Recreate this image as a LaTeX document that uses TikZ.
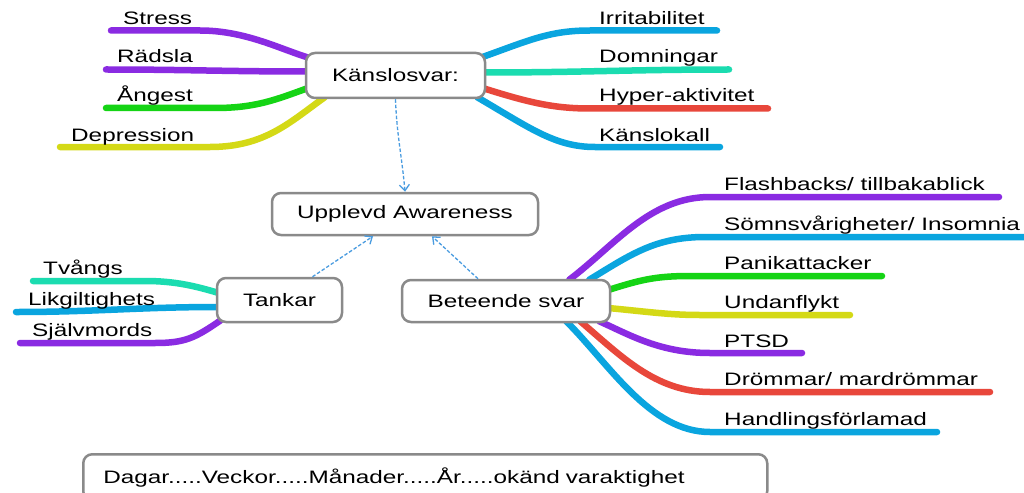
\documentclass[tikz,border=0pt]{standalone}
\usepackage{fontspec}
\setmainfont{Liberation Sans}[FakeStretch=1.35]
\usetikzlibrary{arrows.meta,calc,backgrounds}

\definecolor{mmpurple}{HTML}{8A2BE2}
\definecolor{mmblue}{HTML}{0AA5DF}
\definecolor{mmteal}{HTML}{1BDCB0}
\definecolor{mmgreen}{HTML}{15D415}
\definecolor{mmyellow}{HTML}{D4D916}
\definecolor{mmred}{HTML}{E8473B}
\definecolor{boxgray}{HTML}{8A8A8A}
\definecolor{linkblue}{HTML}{4A9CE0}

\tikzset{
  box/.style={draw=boxgray, line width=2.5pt, rounded corners=9pt, fill=white, inner sep=0pt},
  leaf/.style={anchor=base west, inner sep=0pt},
  branch/.style={draw=#1, line width=6.5pt, line cap=round},
  link/.style={draw=linkblue, line width=1.3pt, dash pattern=on 3.5pt off 2pt,
    -{Straight Barb[length=6pt,width=10pt]}}
}

\begin{document}
\begin{tikzpicture}[x=1pt, y=-1pt, font=\fontsize{18}{21}\selectfont]
  \useasboundingbox (0,0) rectangle (1024,492);

  % Draw the main boxes
  \node[box, minimum width=179pt, minimum height=45pt] (ks) at (395.5,75.5) {Känslosvar:};
  \node[box, minimum width=266pt, minimum height=42pt] (aw) at (405,214) {Upplevd Awareness};
  \node[box, minimum width=125pt, minimum height=44pt] (tk) at (279.5,300) {Tankar};
  \node[box, minimum width=208pt, minimum height=42pt] (bs) at (506,301) {Beteende svar};
  \node[box, anchor=north west, minimum width=684pt, minimum height=46pt,
        inner xsep=20pt, text width=644pt, align=left] (tl) at (82,453)
        {Dagar.....Veckor.....Månader.....År.....okänd varaktighet};

  % Labels of the feelings
  \node[leaf] (stress) at (123,24.5) {Stress};
  \node[leaf] (radsla) at (117,63) {Rädsla};
  \node[leaf] (angest) at (117,102) {Ångest};
  \node[leaf] (depr) at (71,141) {Depression};
  \node[leaf] (irrit) at (599,24.5) {Irritabilitet};
  \node[leaf] (domn) at (599,63) {Domningar};
  \node[leaf] (hyper) at (599,102) {Hyper-aktivitet};
  \node[leaf] (kall) at (599,141) {Känslokall};

  % Labels of the thoughts
  \node[leaf] (tvangs) at (43,274.5) {Tvångs};
  \node[leaf] (likg) at (28,305.5) {Likgiltighets};
  \node[leaf] (sjalv) at (32,336) {Självmords};

  % Labels of the behaviour
  \node[leaf] (flash) at (724,190.5) {Flashbacks/ tillbakablick};
  \node[leaf] (somn) at (724,230) {Sömnsvårigheter/ Insomnia};
  \node[leaf] (panik) at (724,269) {Panikattacker};
  \node[leaf] (undan) at (724,308.5) {Undanflykt};
  \node[leaf] (ptsd) at (724,347) {PTSD};
  \node[leaf] (drom) at (724,385.5) {Drömmar/ mardrömmar};
  \node[leaf] (handl) at (724,425.5) {Handlingsförlamad};

  % Free ends of the branches
  \coordinate (stress-e) at (111,30.5);
  \coordinate (radsla-e) at (106,69.5);
  \coordinate (angest-e) at (106,108);
  \coordinate (depr-e) at (60,147);
  \coordinate (irrit-e) at (717,30.5);
  \coordinate (domn-e) at (729,69.5);
  \coordinate (hyper-e) at (768,108.5);
  \coordinate (kall-e) at (720,147);
  \coordinate (tvangs-e) at (33,281);
  \coordinate (likg-e) at (16,312);
  \coordinate (sjalv-e) at (20,343);
  \coordinate (flash-e) at (999,197);
  \coordinate (somn-e) at (1030,237);
  \coordinate (panik-e) at (882,276);
  \coordinate (undan-e) at (850,315);
  \coordinate (ptsd-e) at (802,353);
  \coordinate (drom-e) at (990,392);
  \coordinate (handl-e) at (937,432);

  \begin{pgfonlayer}{background}
    \fill[white] (0,0) rectangle (1024,492);

    % Branches of Känslosvar
    \draw[branch=mmpurple] ($(ks.north west)+(4,6)$) .. controls (280,49) and (245,30.5) .. (200,30.5) -- (stress-e);
    \draw[branch=mmpurple] ($(ks.west)+(2,-4)$) to[out=180, in=0] (radsla-e);
    \draw[branch=mmgreen] ($(ks.west)+(2,13)$) .. controls (275,100) and (255,108) .. (215,108) -- (angest-e);
    \draw[branch=mmyellow] ($(ks.south west)+(20,-2)$) .. controls (290,122) and (265,147) .. (210,147) -- (depr-e);
    \draw[branch=mmblue] ($(ks.north east)+(-3,5)$) .. controls (530,40) and (550,30.5) .. (590,30.5) -- (irrit-e);
    \draw[branch=mmteal] ($(ks.east)+(-2,-3)$) to[out=0, in=180] (domn-e);
    \draw[branch=mmred] ($(ks.east)+(-2,13)$) .. controls (530,103) and (555,108.5) .. (590,108.5) -- (hyper-e);
    \draw[branch=mmblue] ($(ks.south east)+(-9,-2)$) .. controls (530,128) and (555,147) .. (595,147) -- (kall-e);

    % Branches of Tankar
    \draw[branch=mmteal] ($(tk.west)+(3,-7)$) .. controls (195,286) and (175,281) .. (145,281) -- (tvangs-e);
    \draw[branch=mmblue] ($(tk.west)+(3,7)$) to[out=180, in=0] (likg-e);
    \draw[branch=mmpurple] ($(tk.south west)+(5,-3)$) .. controls (195,338) and (185,343) .. (155,343) -- (sjalv-e);

    % Branches of Beteende svar
    \draw[branch=mmpurple] ($(bs.north east)+(-42,1)$) .. controls (615,245) and (650,197) .. (710,197) -- (flash-e);
    \draw[branch=mmblue] ($(bs.north east)+(-22,1)$) .. controls (630,255) and (655,237) .. (705,237) -- (somn-e);
    \draw[branch=mmgreen] ($(bs.east)+(-3,-11)$) .. controls (640,280) and (655,276) .. (690,276) -- (panik-e);
    \draw[branch=mmyellow] ($(bs.east)+(-3,7)$) .. controls (650,312) and (670,315) .. (700,315) -- (undan-e);
    \draw[branch=mmblue] ($(bs.south east)+(-45,-2)$) .. controls (610,365) and (650,432) .. (710,432) -- (handl-e);
    \draw[branch=mmred] ($(bs.south east)+(-31,-2)$) .. controls (620,355) and (655,392) .. (710,392) -- (drom-e);
    \draw[branch=mmpurple] ($(bs.south east)+(-12,-2)$) .. controls (630,335) and (660,353) .. (710,353) -- (ptsd-e);
  \end{pgfonlayer}

  % Dashed arrows towards the awareness
  \draw[link] (ks.south) to[out=-88, in=95] (aw.north);
  \draw[link] ($(tk.north)+(33,0)$) -- ($(aw.south)+(-32,0)$);
  \draw[link] ($(bs.north)+(-28,0)$) -- ($(aw.south)+(27,0)$);
\end{tikzpicture}
\end{document}
